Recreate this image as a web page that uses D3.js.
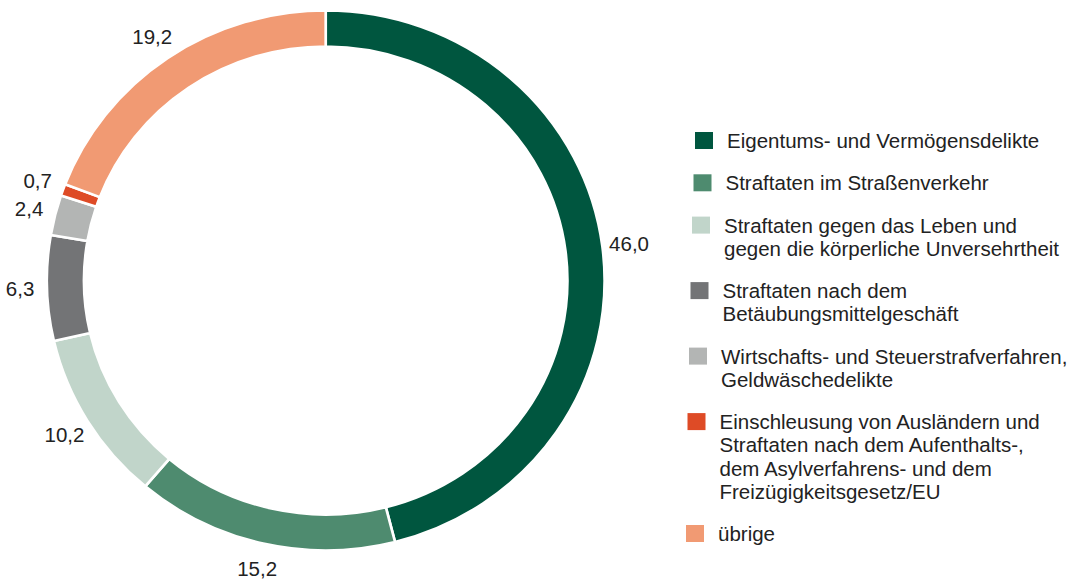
<!DOCTYPE html>
<html>
<head>
<meta charset="utf-8">
<script src="https://cdn.jsdelivr.net/npm/d3@7/dist/d3.min.js"></script>
<style>
  body { margin: 0; background: #fff; }
  text { font-family: "Liberation Sans", Arial, sans-serif; fill: #222; }
</style>
</head>
<body>
<div id="chart"></div>
<script>
// Data, in order clockwise from the top
const categories = [
    ["Eigentums- und Vermögensdelikte"],
    ["Straftaten im Straßenverkehr"],
    ["Straftaten gegen das Leben und", "gegen die körperliche Unversehrtheit"],
    ["Straftaten nach dem", "Betäubungsmittelgeschäft"],
    ["Wirtschafts- und Steuerstrafverfahren,", "Geldwäschedelikte"],
    ["Einschleusung von Ausländern und", "Straftaten nach dem Aufenthalts-,", "dem Asylverfahrens- und dem", "Freizügigkeitsgesetz/EU"],
    ["übrige"]
];
const values = [46.0, 15.2, 10.2, 6.3, 2.4, 0.7, 19.2];
const valueLabels = ["46,0", "15,2", "10,2", "6,3", "2,4", "0,7", "19,2"];
const colors = ["#00563f", "#4e8b6f", "#c1d5ca", "#737476", "#b3b5b4", "#de4b26", "#f19a73"];

// Layout
const width = 1075, height = 586;
const cx = 325.7, cy = 280.5;
const outerR = 270, innerR = 234;
const stretchX = 1.033;   // the reference ring is slightly wider than tall
const labelR = 296;
const fontSize = "20.5px";

const svg = d3.select("#chart")
    .append("svg")
    .attr("width", width)
    .attr("height", height);

const pie = d3.pie().sort(null).value(d => d);
const arcs = pie(values);

const arc = d3.arc()
    .innerRadius(innerR)
    .outerRadius(outerR);

// Ring
svg.append("g")
    .attr("transform", `translate(${cx},${cy}) scale(${stretchX},1)`)
  .selectAll("path")
    .data(arcs)
    .enter()
    .append("path")
    .attr("d", arc)
    .attr("fill", (d, i) => colors[i])
    .attr("stroke", "#fff")
    .attr("stroke-width", 2.6);

// Value labels outside the ring
svg.append("g")
  .selectAll("text")
    .data(arcs)
    .enter()
    .append("text")
    .attr("x", d => {
        const a = (d.startAngle + d.endAngle) / 2;
        return cx + stretchX * labelR * Math.sin(a);
    })
    .attr("y", d => {
        const a = (d.startAngle + d.endAngle) / 2;
        return cy - labelR * Math.cos(a);
    })
    .attr("dy", "0.36em")
    .style("text-anchor", "middle")
    .style("font-size", fontSize)
    .text((d, i) => valueLabels[i]);

// Legend
const lineH = 23.2, gap = 19.1, firstBaseline = 148;
let baseline = firstBaseline;
categories.forEach((lines, i) => {
    const sx = 695 - i * 1.5;
    const g = svg.append("g");
    g.append("rect")
        .attr("x", sx)
        .attr("y", baseline - 16)
        .attr("width", 18)
        .attr("height", 17)
        .style("fill", colors[i]);
    const t = g.append("text")
        .attr("x", sx + 32)
        .attr("y", baseline)
        .style("font-size", fontSize);
    lines.forEach((line, j) => {
        t.append("tspan")
            .attr("x", sx + 32)
            .attr("dy", j === 0 ? 0 : lineH)
            .text(line);
    });
    baseline += lines.length * lineH + gap;
});
</script>
</body>
</html>
